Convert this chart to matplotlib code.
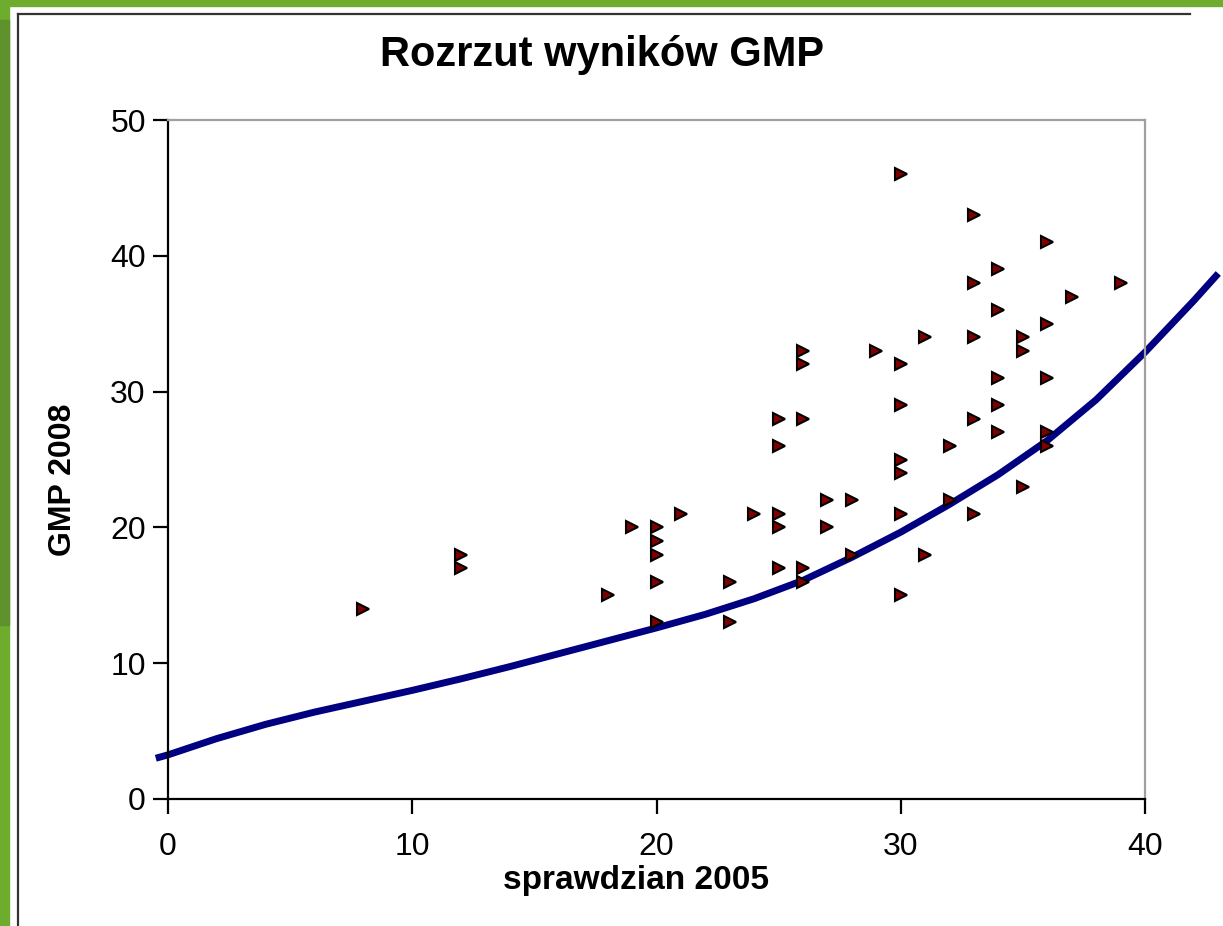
import matplotlib
matplotlib.use("Agg")
import matplotlib.pyplot as plt
from matplotlib.patches import Rectangle
from matplotlib.lines import Line2D

plt.rcParams['font.family'] = ['Liberation Sans', 'DejaVu Sans']

# punkty: sprawdzian 2005 vs GMP 2008
sprawdzian = [8, 12, 12, 18, 19, 20, 20, 20, 20, 20, 21, 23, 23, 24,
              25, 25, 25, 25, 25, 26, 26, 26, 26, 26, 27, 27, 28, 28, 29,
              30, 30, 30, 30, 30, 30, 30, 31, 31, 32, 32,
              33, 33, 33, 33, 33, 34, 34, 34, 34, 34, 35, 35, 35,
              36, 36, 36, 36, 36, 37, 39]
gmp = [14, 18, 17, 15, 20, 20, 19, 18, 16, 13, 21, 16, 13, 21,
       28, 26, 21, 20, 17, 33, 32, 28, 17, 16, 22, 20, 22, 18, 33,
       46, 32, 29, 25, 24, 21, 15, 34, 18, 26, 22,
       43, 38, 34, 28, 21, 39, 36, 31, 29, 27, 34, 33, 23,
       41, 35, 31, 27, 26, 37, 38]

# linia trendu
trend_x = [-0.5, 0, 2, 4, 6, 8, 10, 12, 14, 16, 18, 20, 22, 24, 26, 28,
           30, 32, 34, 36, 38, 40, 42, 43]
trend_y = [3.0, 3.25, 4.45, 5.5, 6.4, 7.2, 8.0, 8.85, 9.75, 10.7, 11.65, 12.6,
           13.6, 14.75, 16.1, 17.8, 19.65, 21.7, 23.9, 26.4, 29.4, 32.9, 36.7, 38.7]

W, H = 1223, 926
fig = plt.figure(figsize=(W / 100, H / 100), dpi=100)

# zielona ramka slajdu
green = '#6dac2c'
fig.patches.append(Rectangle((0, 1 - 6 / H), 1, 6 / H, transform=fig.transFigure,
                             color=green, zorder=0))
fig.patches.append(Rectangle((0, 0), 9 / W, 1, transform=fig.transFigure,
                             color=green, zorder=0))
fig.patches.append(Rectangle((0, 1 - 625 / H), 9 / W, (625 - 20) / H,
                             transform=fig.transFigure, color='#5f922c', zorder=0))
fig.lines.append(Line2D([18 / W, 1190 / W], [1 - 14 / H, 1 - 14 / H],
                        transform=fig.transFigure, color='#333333', lw=1.6))
fig.lines.append(Line2D([18 / W, 18 / W], [0, 1 - 14 / H],
                        transform=fig.transFigure, color='#333333', lw=1.6))

ax = fig.add_axes([168 / W, 1 - 799 / H, (1145 - 168) / W, (799 - 120) / H])

ax.plot(trend_x, trend_y, color='#000080', lw=5, clip_on=False, zorder=2,
        solid_joinstyle='round', solid_capstyle='butt')
ax.plot(sprawdzian, gmp, linestyle='none', marker='>', markersize=8.5,
        markerfacecolor='#800000', markeredgecolor='black', markeredgewidth=1.5,
        zorder=3)

ax.set_xlim(0, 40)
ax.set_ylim(0, 50)
ax.set_xticks([0, 10, 20, 30, 40])
ax.set_yticks([0, 10, 20, 30, 40, 50])

for s in ['left', 'bottom']:
    ax.spines[s].set_color('black')
    ax.spines[s].set_linewidth(1.6)
for s in ['top', 'right']:
    ax.spines[s].set_color('#a0a0a0')
    ax.spines[s].set_linewidth(1.6)

ax.tick_params(direction='out', length=11, width=1.6, labelsize=23, pad=5,
               top=False, right=False)
ax.tick_params(axis='x', pad=13)

fig.text(602 / W, 1 - 55 / H, 'Rozrzut wyników GMP', ha='center', va='center',
         fontsize=30, fontweight='bold')
ax.set_xlabel('sprawdzian 2005', fontsize=24, fontweight='bold')
ax.xaxis.set_label_coords(0.479, -0.097)
ax.set_ylabel('GMP 2008', fontsize=23, fontweight='bold')
ax.yaxis.set_label_coords(-0.092, 0.47)

plt.savefig('out.png', dpi=100)
